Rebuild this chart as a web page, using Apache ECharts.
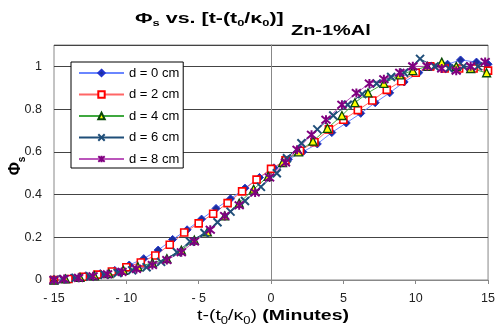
<!DOCTYPE html>
<html>
<head>
<meta charset="utf-8">
<script src="https://cdn.jsdelivr.net/npm/echarts@6/dist/echarts.min.js"></script>
<style>html,body{margin:0;padding:0;background:#fff}#c{width:498px;height:331px}</style>
</head>
<body>
<div id="c"></div>
<script>
const seriesNames = ['d = 0 cm', 'd = 2 cm', 'd = 4 cm', 'd = 6 cm', 'd = 8 cm'];
const xTicks = [-15, -10, -5, 0, 5, 10, 15];
const yTicks = [0, 0.2, 0.4, 0.6, 0.8, 1];

const x0 = [-15, -13.8, -12.8, -11.8, -10.8, -9.8, -8.8, -7.8, -6.8, -5.8, -4.8, -3.8, -2.8, -1.8, -0.8, 0.2, 1.2, 2.2, 3.2, 4.2, 5.2, 6.2, 7.2, 8.2, 9.2, 10.2, 11.2, 12.2, 13.1, 14.2, 15];
const y0 = [0, 0.01, 0.02, 0.03, 0.045, 0.07, 0.1, 0.14, 0.19, 0.235, 0.285, 0.335, 0.38, 0.43, 0.48, 0.525, 0.565, 0.6, 0.637, 0.69, 0.735, 0.78, 0.83, 0.876, 0.927, 0.97, 1.0, 1.01, 1.03, 1.02, 1.01];

const x2 = [-15, -14, -13, -12, -11, -10, -9, -8, -7, -6, -5, -4, -3, -2, -1, 0, 1, 2, 3, 4, 5, 6, 7, 8, 9, 10, 11, 12, 13, 14, 15];
const y2 = [0, 0.005, 0.015, 0.025, 0.04, 0.06, 0.082, 0.115, 0.165, 0.222, 0.265, 0.31, 0.36, 0.415, 0.47, 0.52, 0.56, 0.605, 0.645, 0.705, 0.75, 0.795, 0.84, 0.89, 0.93, 0.97, 1.0, 0.99, 0.99, 0.99, 0.98];

const x4 = [-15, -14.2, -13.2, -12.2, -11.2, -10.2, -9.2, -8.2, -7.2, -6.2, -5.3, -4.4, -3.2, -2.2, -1.2, -0.2, 0.8, 1.9, 2.9, 3.9, 4.9, 5.8, 6.7, 7.8, 8.9, 9.8, 10.8, 11.8, 12.8, 13.8, 14.9];
const y4 = [0, 0.005, 0.012, 0.02, 0.03, 0.045, 0.062, 0.08, 0.1, 0.14, 0.187, 0.225, 0.3, 0.36, 0.425, 0.485, 0.55, 0.6, 0.65, 0.71, 0.77, 0.83, 0.876, 0.92, 0.96, 0.98, 1.0, 1.02, 1.0, 0.99, 0.97];

const x6 = [-15, -14.4, -13.5, -12.5, -11.5, -10.6, -9.6, -8.6, -7.6, -6.5, -5.6, -4.6, -3.7, -2.8, -1.8, -0.7, 0.4, 1.1, 2.1, 3.2, 4.3, 5.3, 6.3, 7.3, 8.3, 9.2, 10.3, 11.3, 12.3, 13.3, 14.3];
const y6 = [0, 0.004, 0.01, 0.016, 0.024, 0.033, 0.045, 0.06, 0.085, 0.13, 0.18, 0.22, 0.27, 0.32, 0.37, 0.436, 0.5, 0.57, 0.64, 0.705, 0.77, 0.82, 0.87, 0.92, 0.95, 0.97, 1.035, 1.0, 0.99, 1.0, 1.0];

const x8 = [-15, -14.3, -13.3, -12.3, -11.3, -10.3, -9.3, -8.2, -7.2, -6.2, -5.3, -4.2, -3.2, -2.2, -1.1, -0.1, 1.0, 1.8, 2.8, 3.8, 4.9, 5.9, 6.8, 7.8, 8.9, 9.8, 10.8, 11.8, 12.8, 13.8, 14.8];
const y8 = [0, 0.005, 0.01, 0.018, 0.027, 0.038, 0.052, 0.07, 0.094, 0.13, 0.18, 0.235, 0.3, 0.35, 0.41, 0.48, 0.55, 0.61, 0.68, 0.75, 0.82, 0.875, 0.92, 0.94, 0.97, 1.0, 1.0, 0.99, 0.98, 1.0, 1.02];

const FONT = '"Liberation Sans", Arial, sans-serif';
const pair = (xs, ys) => xs.map((x, i) => [x, ys[i]]);

const styles = [
  {symbol: 'diamond', symbolSize: 8, line: '#6a86ff', item: {color: '#1a2f9c', borderColor: '#2233cc', borderWidth: 1}},
  {symbol: 'rect', symbolSize: 7, line: '#ff6666', item: {color: '#ffffff', borderColor: '#ff0000', borderWidth: 1.6}},
  {symbol: 'triangle', symbolSize: 8, line: '#3fa83f', item: {color: '#ffff00', borderColor: '#0a4a0a', borderWidth: 1.3}},
  {symbol: 'path://M0,0L10,10M10,0L0,10', symbolSize: 8, line: '#1f4e79', item: {color: 'rgba(0,0,0,0)', borderColor: '#1f4e79', borderWidth: 2}},
  {symbol: 'path://M0,0L10,10M10,0L0,10M5,-1L5,11', symbolSize: 9, line: '#bb55bb', item: {color: 'rgba(0,0,0,0)', borderColor: '#800080', borderWidth: 2}}
];
const datasets = [pair(x0, y0), pair(x2, y2), pair(x4, y4), pair(x6, y6), pair(x8, y8)];

const richMain = (size, subSize, bold) => ({
  b: {fontSize: size, fontWeight: bold ? 'bold' : 'normal', fill: '#000', fontFamily: FONT, verticalAlign: 'top', lineHeight: size + 2},
  bb: {fontSize: size, fontWeight: 'bold', fill: '#000', fontFamily: FONT, verticalAlign: 'top', lineHeight: size + 2},
  s: {fontSize: subSize, fontWeight: bold ? 'bold' : 'normal', fill: '#000', fontFamily: FONT, verticalAlign: 'top', lineHeight: subSize + 1, padding: [Math.round(size * 0.55), 0, 0, 0]}
});

const chart = echarts.init(document.getElementById('c'), null, {renderer: 'canvas'});
chart.setOption({
  animation: false,
  backgroundColor: '#fff',
  textStyle: {fontFamily: FONT},
  legend: {
    orient: 'vertical',
    left: 71, top: 62,
    padding: [4, 4, 2, 7],
    itemWidth: 45, itemHeight: 8, itemGap: 7.5,
    borderColor: '#000', borderWidth: 1,
    backgroundColor: '#fff',
    textStyle: {fontSize: 13, color: '#000', fontFamily: FONT, lineHeight: 14},
    data: seriesNames
  },
  grid: {left: 54, right: 9, top: 45, bottom: 51, show: true, borderColor: '#888', borderWidth: 1, backgroundColor: 'transparent'},
  xAxis: {
    type: 'value', min: xTicks[0], max: xTicks[xTicks.length - 1], interval: 5,
    axisLine: {lineStyle: {color: '#888', width: 1}},
    axisTick: {show: true, length: 4, lineStyle: {color: '#888'}},
    axisLabel: {fontSize: 12.5, color: '#222', margin: 12, fontFamily: FONT,
      formatter: v => (v < 0 ? '- ' + Math.abs(v) : String(v))},
    splitLine: {show: false}
  },
  yAxis: {
    type: 'value', min: 0, max: 1.1, interval: 0.2,
    axisLine: {onZero: true, lineStyle: {color: '#888', width: 1}},
    axisTick: {show: false},
    axisLabel: {fontSize: 12.5, color: '#222', margin: 12, fontFamily: FONT, showMaxLabel: false,
      formatter: v => (yTicks.some(t => Math.abs(t - v) < 1e-6) ? String(Math.round(v * 10) / 10) : '')},
    splitLine: {show: true, lineStyle: {color: '#444', width: 1}}
  },
  graphic: [{
    type: 'text',
    x: 135, y: 11, scaleX: 1.43,
    style: {
      text: '{b|Φ}{s|s}{b| vs. [t-(t}{s|0}{b|/κ}{s|0}{b|)]}',
      align: 'left', verticalAlign: 'top',
      rich: richMain(15, 9, true)
    }
  }, {
    type: 'text',
    x: 291, y: 23, scaleX: 1.33,
    style: {
      text: 'Zn-1%Al', align: 'left', verticalAlign: 'top',
      font: 'bold 15px ' + FONT, fill: '#000'
    }
  }, {
    type: 'text',
    x: 273, y: 308, scaleX: 1.3,
    style: {
      text: '{b|t-(t}{s|0}{b|/κ}{s|0}{b|) }{bb|(Minutes)}',
      align: 'center', verticalAlign: 'top',
      rich: richMain(15, 10, false)
    }
  }, {
    type: 'text',
    x: 17, y: 166,
    rotation: Math.PI / 2,
    style: {
      text: '{b|Φ}{s|s}',
      align: 'center', verticalAlign: 'middle',
      rich: richMain(16, 10, true)
    }
  }],
  series: datasets.map((d, i) => ({
    name: seriesNames[i],
    type: 'line',
    data: d,
    symbol: styles[i].symbol,
    symbolSize: styles[i].symbolSize,
    showSymbol: true,
    showAllSymbol: true,
    lineStyle: {color: styles[i].line, width: 1},
    itemStyle: styles[i].item,
    emphasis: {disabled: true}
  }))
});
</script>
</body>
</html>
